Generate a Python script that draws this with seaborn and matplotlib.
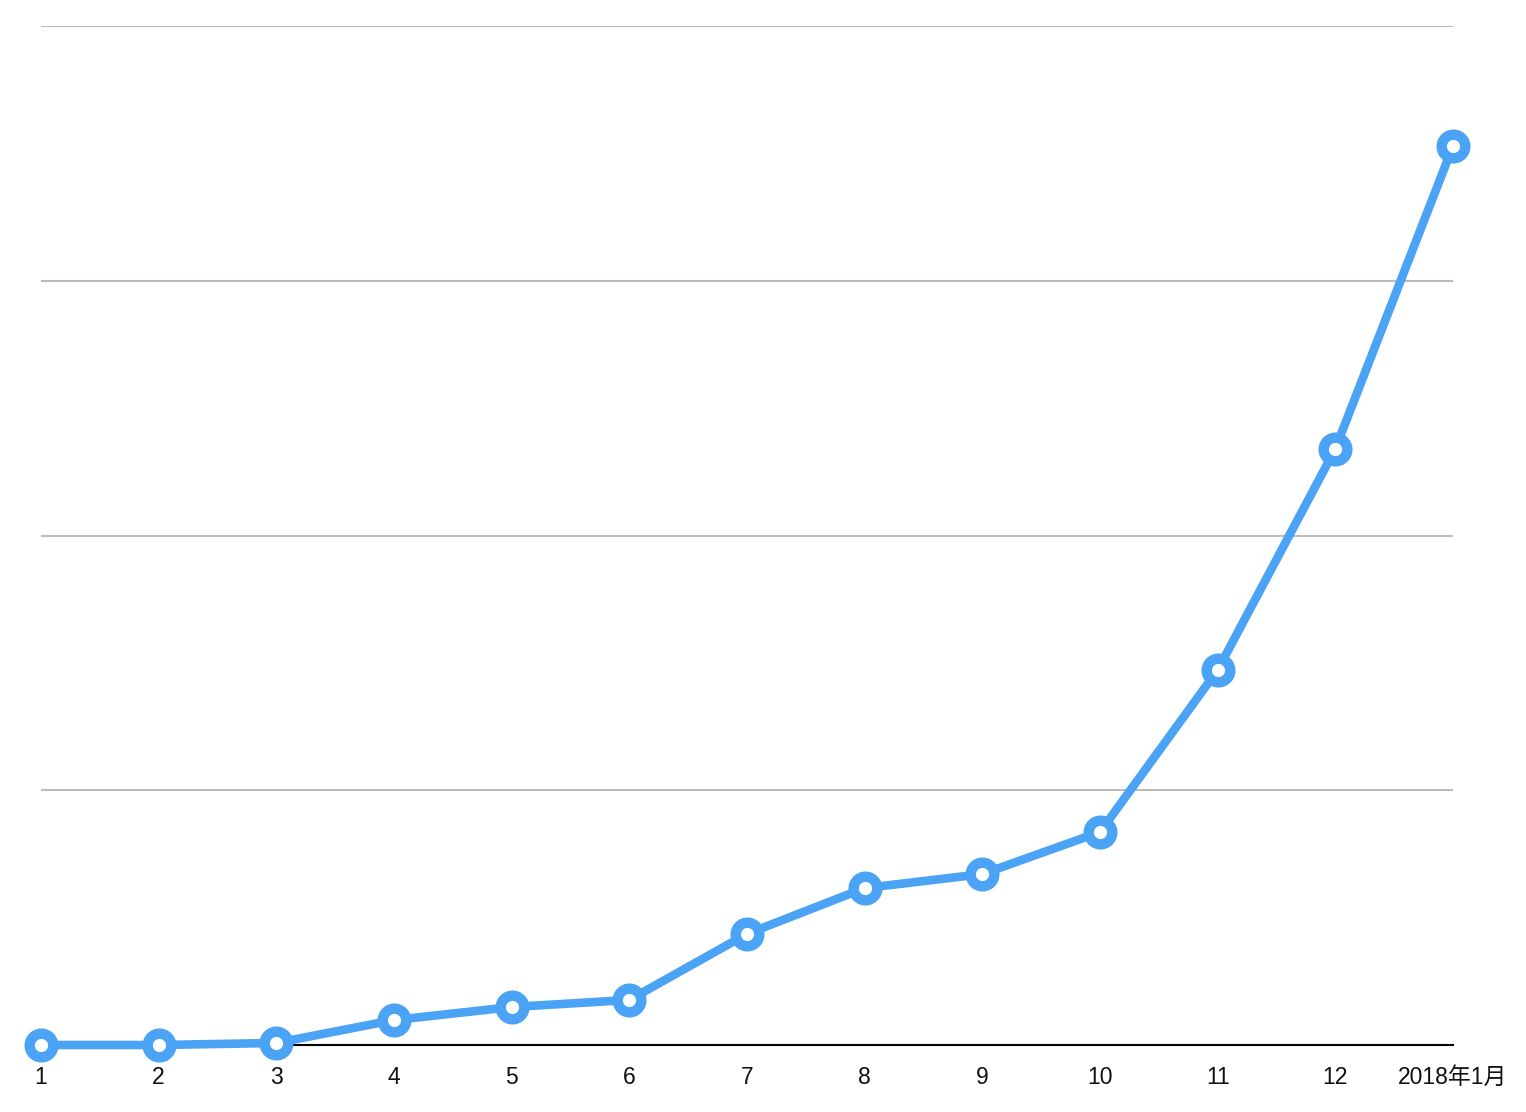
import matplotlib
matplotlib.use('Agg')
import matplotlib.pyplot as plt
import seaborn as sns
import pandas as pd

# Data
months = ['1', '2', '3', '4', '5', '6', '7', '8', '9', '10', '11', '12', '2018年1月']
values = [0.0, 0.0, 0.008, 0.098, 0.149, 0.177, 0.436, 0.616, 0.671, 0.836, 1.472, 2.340, 3.529]

df = pd.DataFrame({'month': months, 'value': values})
df['pos'] = range(len(df))

sns.set_style('white')
plt.rcParams['font.family'] = ['Liberation Sans', 'Noto Sans CJK SC', 'DejaVu Sans']

fig = plt.figure(figsize=(15.26, 11.12), dpi=100)
ax = fig.add_axes([41 / 1526, 1 - 1045 / 1112, (1453 - 41) / 1526, (1045 - 26) / 1112])

line_color = '#4AA3F5'
sns.lineplot(data=df, x='pos', y='value', ax=ax, color=line_color, linewidth=6.2,
             marker='o', markersize=17, markerfacecolor='white',
             markeredgecolor=line_color, markeredgewidth=7.5, clip_on=False, zorder=5)

ax.set_xlim(0, len(df) - 1)
ax.set_ylim(0, 4)
ax.set_yticks([0, 1, 2, 3, 4])
ax.set_yticklabels([])
ax.yaxis.grid(True, color='#BBBBBB', linewidth=1.5)
ax.set_axisbelow(True)
ax.set_xticks(df['pos'])
ax.set_xticklabels(df['month'], fontsize=16.5, color='#111111')
ax.tick_params(axis='both', length=0)
ax.tick_params(axis='x', pad=15)
ax.set_xlabel('')
ax.set_ylabel('')

for side in ['top', 'right', 'left']:
    ax.spines[side].set_visible(False)
ax.spines['bottom'].set_color('black')
ax.spines['bottom'].set_linewidth(1.5)
ax.spines['bottom'].set_zorder(3)

fig.savefig('out.png', dpi=100)
plt.close()
